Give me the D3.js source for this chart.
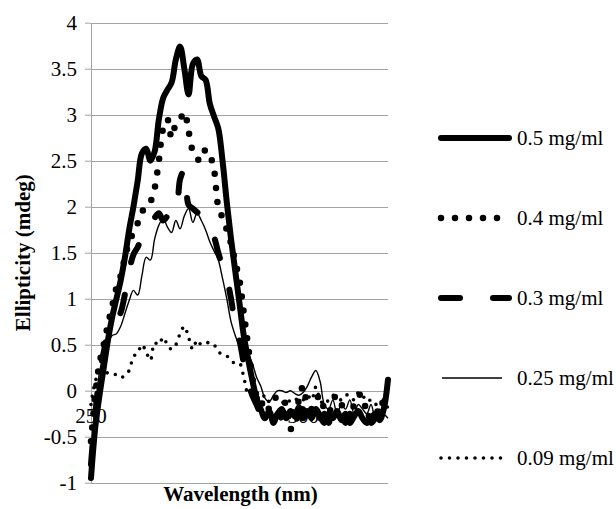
<!DOCTYPE html>
<html>
<head>
<meta charset="utf-8">
<script src="https://cdn.jsdelivr.net/npm/d3@7/dist/d3.min.js"></script>
<style>
  html, body { margin: 0; padding: 0; background: #fff; }
</style>
</head>
<body>
<svg id="chart" width="616" height="509" font-family="Liberation Serif"></svg>
<script>
// Wavelength categories (nm)
const wavelengths = d3.range(250, 321);

// CD spectra, ellipticity in mdeg, one value per nm from 250 to 320
const conc05 = [
  -0.95, -0.4, -0.05, 0.25, 0.55, 0.8, 1.0, 1.2, 1.45, 1.75,
  2.0, 2.28, 2.58, 2.63, 2.5, 2.6, 2.95, 3.18, 3.27, 3.35,
  3.6, 3.74, 3.5, 3.22, 3.55, 3.6, 3.42, 3.38, 3.12, 2.98,
  2.85, 2.5, 2.05, 1.65, 1.3, 0.95, 0.6, 0.35, 0.12, -0.08,
  -0.2, -0.3, -0.22, -0.33, -0.25, -0.2, -0.3, -0.22, -0.28, -0.18,
  -0.3, -0.22, -0.3, -0.2, -0.28, -0.35, -0.25, -0.3, -0.22, -0.32,
  -0.25, -0.35, -0.28, -0.22, -0.3, -0.35, -0.3, -0.25, -0.32, -0.2,
  0.12
];
const conc04 = [
  -0.55, -0.05, 0.3, 0.5, 0.72, 0.92, 1.12, 1.25, 1.45, 1.62,
  1.72, 1.82, 1.95, 1.98, 2.05, 2.2, 2.5, 2.85, 2.95, 2.75,
  2.9, 2.95, 3.03, 2.82, 2.6, 2.52, 2.5, 2.62, 2.56, 2.4,
  2.0, 1.88, 1.75, 1.6, 1.4, 1.2, 0.85, 0.5, 0.15, -0.05,
  -0.15, -0.1, -0.2, -0.12, -0.05, -0.1, -0.15, -0.42, -0.3, -0.1,
  0.05, -0.15, -0.2, -0.1, -0.05, -0.2, -0.25, -0.1, -0.05, -0.15,
  -0.2, -0.3, -0.15, -0.05, -0.05, -0.25, -0.3, -0.2, -0.25, -0.1,
  -0.2
];
const conc03 = [
  -0.8, -0.25, 0.15, 0.42, 0.62, 0.7, 0.76, 0.85, 1.05, 1.3,
  1.48, 1.56, 1.68, 1.78, 1.82, 1.88, 1.93, 1.85, 1.9, 2.0,
  1.98, 2.3, 2.4, 2.02, 1.98, 1.94, 1.9, 1.86, 1.76, 1.67,
  1.5, 1.35, 1.22, 1.0, 0.72, 0.55, 0.3, 0.1, -0.05, -0.15,
  -0.25, -0.3, -0.2, -0.35, -0.25, -0.3, -0.2, -0.28, -0.35, -0.25,
  -0.2, -0.3, -0.25, -0.15, -0.3, -0.25, -0.35, -0.22, -0.3, -0.25,
  -0.35, -0.25, -0.3, -0.2, -0.28, -0.22, -0.35, -0.3, -0.25, -0.3,
  -0.15
];
const conc025 = [
  -0.7, -0.2, 0.2, 0.4, 0.52, 0.6, 0.62, 0.7, 0.84, 0.98,
  1.09, 1.04, 1.25, 1.45, 1.42, 1.65, 1.8, 1.87, 1.78, 1.72,
  1.85, 1.76, 1.9, 1.98, 1.83, 1.93, 1.85, 1.75, 1.62, 1.52,
  1.42, 1.22, 1.0, 0.75, 0.6, 0.48, 0.42, 0.4, 0.3, 0.15,
  0.05, -0.08, -0.12, -0.05, 0.0, 0.0, -0.02, 0.0, -0.03, -0.05,
  -0.02, 0.05, 0.15, 0.22, 0.1, -0.15, -0.2, -0.1, -0.25, -0.15,
  -0.2, -0.1, -0.25, -0.15, -0.2, -0.25, -0.15, -0.3, -0.2, -0.25,
  -0.3
];
const conc009 = [
  -0.15, 0.1, 0.2, 0.22, 0.19, 0.19, 0.17, 0.14, 0.17, 0.22,
  0.37, 0.41, 0.5, 0.42, 0.33, 0.52, 0.5, 0.58, 0.5, 0.45,
  0.5, 0.62, 0.7, 0.58, 0.45, 0.55, 0.5, 0.52, 0.52, 0.5,
  0.42, 0.4, 0.38, 0.32, 0.3, 0.3, 0.15, -0.02, 0.0, -0.05,
  -0.1, -0.05, -0.12, -0.1, -0.08, -0.12, -0.15, -0.1, -0.08, -0.12,
  -0.1, -0.05, -0.1, 0.04, -0.1, -0.15, -0.1, -0.05, -0.08, -0.1,
  -0.05, -0.05, -0.1, -0.02, -0.05, -0.12, -0.1, -0.15, -0.12, -0.1,
  -0.2
];

const seriesNames = ["0.5 mg/ml", "0.4 mg/ml", "0.3 mg/ml", "0.25 mg/ml", "0.09 mg/ml"];
const seriesValues = [conc05, conc04, conc03, conc025, conc009];

// y axis ticks and the two labelled wavelengths
const yTicks = [-1, -0.5, 0, 0.5, 1, 1.5, 2, 2.5, 3, 3.5, 4];
const xTickLabels = [250, 300];

// Line styles per series
const styles = [
  { width: 6,   dash: null,    cap: "round" },
  { width: 6.5, dash: "0,14",  cap: "round" },
  { width: 6,   dash: "19,33", cap: "round" },
  { width: 1.4, dash: null,    cap: "butt"  },
  { width: 3.6, dash: "0,8.5", cap: "round" }
];

const FONT = "Liberation Serif";
const fontSize = 21;
const gridColor = "#a3a3a3";

const svg = d3.select("#chart");
const plot = { left: 91, right: 388, top: 22.7, bottom: 482.7 };

const x = d3.scaleLinear().domain([250, 320]).range([plot.left, plot.right]);
const y = d3.scaleLinear().domain([-1, 4]).range([plot.bottom, plot.top]);
const snap = v => Math.round(v) + 0.5;

function styleText(sel) {
  return sel.attr("font-family", FONT).attr("font-size", fontSize).attr("fill", "#000");
}

// Horizontal gridlines
svg.append("g").selectAll("line").data(yTicks).join("line")
  .attr("x1", plot.left).attr("x2", plot.right)
  .attr("y1", d => snap(y(d))).attr("y2", d => snap(y(d)))
  .attr("stroke", gridColor).attr("stroke-width", 1);

// Vertical axis with outward tick marks
const yAxis = d3.axisLeft(y).tickValues(yTicks).tickSize(6).tickSizeOuter(0);
const gy = svg.append("g")
  .attr("transform", `translate(${snap(plot.left) - 0.5},0)`)
  .call(yAxis)
  .attr("font-family", FONT)
  .attr("font-size", fontSize);
gy.select(".domain").attr("stroke", gridColor);
gy.selectAll(".tick line").attr("stroke", gridColor);
gy.selectAll(".tick text")
  .attr("x", -14)
  .call(styleText)
  .text(d => d < 0 ? "-" + Math.abs(d) : String(d));

// Category labels sitting under the zero line
svg.append("g").selectAll("text").data(xTickLabels).join("text")
  .attr("x", d => x(d))
  .attr("y", y(0) + 32)
  .attr("text-anchor", "middle")
  .call(styleText)
  .text(d => d);

// Spectra
const line = d3.line()
  .x((d, i) => x(wavelengths[i]))
  .y(d => y(d))
  .curve(d3.curveCatmullRom.alpha(0.5));

const gLines = svg.append("g");
seriesValues.forEach((vals, k) => {
  const st = styles[k];
  gLines.append("path")
    .datum(vals)
    .attr("d", line)
    .attr("fill", "none")
    .attr("stroke", "#000")
    .attr("stroke-width", st.width)
    .attr("stroke-linecap", st.cap)
    .attr("stroke-linejoin", "round")
    .attr("stroke-dasharray", st.dash);
});

// Axis titles
svg.append("text")
  .attr("x", (plot.left + plot.right) / 2 + 1)
  .attr("y", 501)
  .attr("text-anchor", "middle")
  .call(styleText)
  .attr("font-weight", "bold")
  .text("Wavelength (nm)");

svg.append("text")
  .attr("transform", `translate(30,${(plot.top + plot.bottom) / 2}) rotate(-90)`)
  .attr("text-anchor", "middle")
  .call(styleText)
  .attr("font-weight", "bold")
  .text("Ellipticity (mdeg)");

// Legend
const legendY = d3.scalePoint().domain(seriesNames).range([138, 458]);
const legend = svg.append("g");
seriesNames.forEach((name, k) => {
  const st = styles[k];
  const cy = legendY(name);
  const thin = st.width < 2;
  legend.append("line")
    .attr("x1", thin ? 442 : 441).attr("x2", thin ? 502 : 509)
    .attr("y1", cy).attr("y2", cy)
    .attr("stroke", "#000")
    .attr("stroke-width", st.width)
    .attr("stroke-linecap", st.cap)
    .attr("stroke-dasharray", st.dash);
  legend.append("text")
    .attr("x", 517)
    .attr("y", cy + 7)
    .call(styleText)
    .text(name);
});
</script>
</body>
</html>
